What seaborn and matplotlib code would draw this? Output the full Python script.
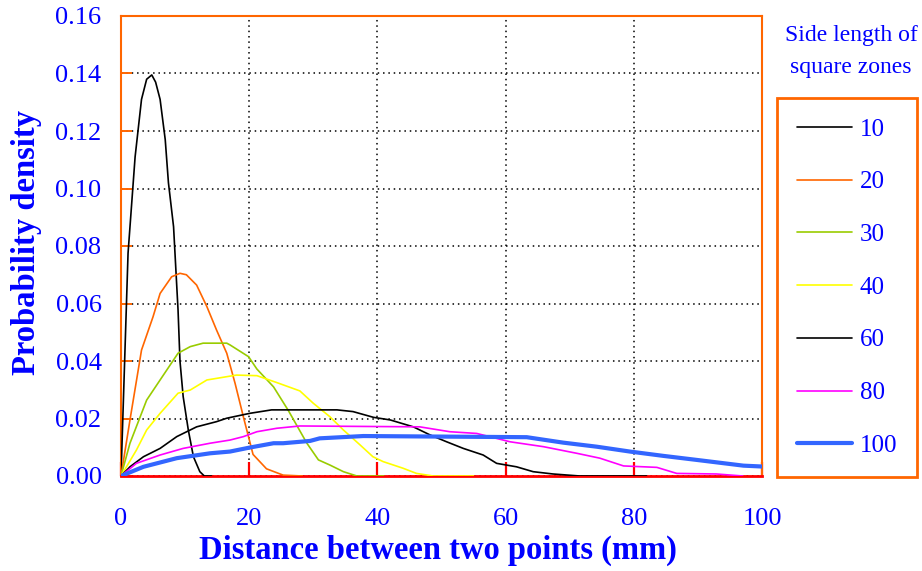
import numpy as np
import pandas as pd
import matplotlib
matplotlib.use("Agg")
import matplotlib.pyplot as plt
import seaborn as sns

# ---- data ----
side_labels = ["10", "20", "30", "40", "60", "80", "100"]
colors = ["#000000", "#FF6600", "#99CC00", "#FFFF00", "#000000", "#FF00FF", "#3366FF"]

x10 = [0, 1.1, 2.2, 3.2, 4.0, 4.8, 5.4, 6.1, 6.9, 7.4, 8.2, 8.9, 9.2, 9.7, 10.5, 11.3, 12.3, 13.0, 14.1]
y10 = [0, 0.0775, 0.111, 0.131, 0.138, 0.1395, 0.137, 0.131, 0.117, 0.102, 0.0867, 0.0577, 0.040, 0.0276, 0.016, 0.0067, 0.0015, 0, 0]

x20 = [0, 1.4, 3.2, 5.0, 6.1, 7.9, 9.2, 10.2, 11.8, 13.4, 14.9, 16.5, 17.8, 19.1, 20.6, 22.7, 25.3, 28.3]
y20 = [0, 0.0195, 0.0438, 0.0554, 0.0635, 0.0693, 0.0705, 0.0700, 0.0664, 0.0589, 0.0508, 0.0427, 0.0322, 0.0205, 0.0075, 0.0025, 0.0003, 0]

x30 = [0, 1.4, 4.0, 6.1, 8.9, 10.8, 12.8, 16.5, 17.0, 19.9, 21.2, 23.8, 26.1, 29.0, 30.8, 32.6, 34.7, 36.8, 41.0]
y30 = [0, 0.0114, 0.0264, 0.0334, 0.0427, 0.045, 0.0462, 0.0462, 0.0456, 0.0415, 0.0372, 0.031, 0.0228, 0.0114, 0.0056, 0.0038, 0.0015, 0, 0]

x40 = [0, 2.4, 4.0, 6.1, 8.9, 10.8, 13.4, 18.0, 21.2, 24.3, 27.9, 30.0, 32.6, 34.7, 37.3, 39.3, 40.9, 44.0, 46.1, 48.7, 55.0]
y40 = [0, 0.009, 0.016, 0.0218, 0.0288, 0.0299, 0.0334, 0.0351, 0.0349, 0.0325, 0.0296, 0.0253, 0.0206, 0.016, 0.0108, 0.0067, 0.005, 0.0027, 0.0009, 0, 0]

x60 = [0, 1.4, 3.5, 6.1, 8.7, 11.8, 14.9, 16.5, 20.1, 23.5, 33.7, 36.2, 39.4, 42.0, 45.6, 48.2, 50.8, 53.4, 56.5, 58.6, 61.7, 64.3, 67.4, 71.6, 82.0]
y60 = [0, 0.0032, 0.0067, 0.0096, 0.0137, 0.0171, 0.0189, 0.0201, 0.0218, 0.023, 0.023, 0.0224, 0.0204, 0.0195, 0.0171, 0.0143, 0.0119, 0.0096, 0.0073, 0.0044, 0.0032, 0.0015, 0.0007, 0, 0]

x80 = [0, 2.4, 6.1, 9.7, 13.9, 17.0, 19.1, 21.2, 24.3, 27.9, 46.6, 51.3, 55.5, 60.7, 65.9, 71.1, 74.7, 78.4, 83.6, 86.7, 92.9, 97.0]
y80 = [0, 0.0044, 0.0073, 0.0096, 0.0114, 0.0125, 0.0137, 0.0154, 0.0166, 0.0174, 0.0171, 0.0154, 0.0148, 0.0119, 0.0102, 0.0079, 0.0062, 0.0035, 0.003, 0.0009, 0.0007, 0]

x100 = [0, 3.5, 8.7, 13.9, 17.0, 20.1, 23.8, 25.3, 29.5, 31.0, 37.8, 63.3, 69.0, 74.2, 79.4, 84.6, 89.8, 97.1, 100]
y100 = [0, 0.0032, 0.0062, 0.0079, 0.0085, 0.0099, 0.0114, 0.0114, 0.0122, 0.0131, 0.0139, 0.0135, 0.0116, 0.0102, 0.0085, 0.007, 0.0056, 0.0036, 0.0033]

series_x = [x10, x20, x30, x40, x60, x80, x100]
series_y = [y10, y20, y30, y40, y60, y80, y100]
widths = [1.2, 1.2, 1.2, 1.2, 1.2, 1.2, 3.0]

x_ticks = [0, 20, 40, 60, 80, 100]
y_ticks = [0.00, 0.02, 0.04, 0.06, 0.08, 0.10, 0.12, 0.14, 0.16]

# ---- style ----
sns.set_theme(style="white")
plt.rcParams["font.family"] = ["Liberation Serif", "DejaVu Serif"]
BLUE = "#0000FF"
ORANGE = "#FF6600"
RED = "#FF0000"

fig = plt.figure(figsize=(9.22, 5.71), dpi=100)
ax = fig.add_axes([121 / 922, 1 - 476 / 571, 641 / 922, 460 / 571])

for lab, col, lw, xs, ys in zip(side_labels, colors, widths, series_x, series_y):
    df = pd.DataFrame({"x": xs, "y": ys})
    sns.lineplot(data=df, x="x", y="y", color=col, linewidth=lw, ax=ax,
                 label=lab, sort=False, estimator=None, zorder=3)

ax.set_xlim(0, 100)
ax.set_ylim(0, 0.16)
ax.set_xticks(x_ticks)
ax.set_yticks(y_ticks)
ax.set_xticklabels([str(t) for t in x_ticks])
ax.set_yticklabels([f"{t:.2f}" for t in y_ticks])

ax.grid(True, color="black", linestyle=(0, (1, 2.5)), linewidth=1.1)
ax.set_axisbelow(True)

for s in ["left", "top", "right"]:
    ax.spines[s].set_color(ORANGE)
    ax.spines[s].set_linewidth(1.5)
ax.spines["bottom"].set_color(RED)
ax.spines["bottom"].set_linewidth(2.0)

ax.tick_params(axis="x", direction="in", length=10, width=1.6, color=RED,
               labelcolor=BLUE, labelsize=19, pad=23, bottom=True)
ax.tick_params(axis="y", direction="in", length=8, width=1.4, color=ORANGE,
               labelcolor=BLUE, labelsize=19, pad=14, left=True)

ax.set_xlabel("Distance between two points (mm)", fontsize=23.5, fontweight="bold", color=BLUE)
ax.set_ylabel("Probability density", fontsize=23.5, fontweight="bold", color=BLUE)
ax.xaxis.set_label_coords(0.4945, -0.128)
ax.yaxis.set_label_coords(-0.124, 0.507)

handles, labels = ax.get_legend_handles_labels()
leg = ax.legend(handles, labels, loc="upper left",
                bbox_to_anchor=(777 / 922, 1 - 98 / 571), bbox_transform=fig.transFigure,
                frameon=True, fancybox=False, framealpha=1, edgecolor=ORANGE,
                fontsize=18, labelcolor=BLUE, handlelength=2.2, handletextpad=0.3,
                borderpad=0.8, labelspacing=1.21, borderaxespad=0)
leg.get_frame().set_linewidth(2.0)

fig.text(851 / 922, 1 - 36 / 571, "Side length of", ha="center", va="center",
         fontsize=17, color=BLUE)
fig.text(851 / 922, 1 - 67 / 571, "square zones", ha="center", va="center",
         fontsize=17, color=BLUE)

fig.savefig("out.png", dpi=100)
